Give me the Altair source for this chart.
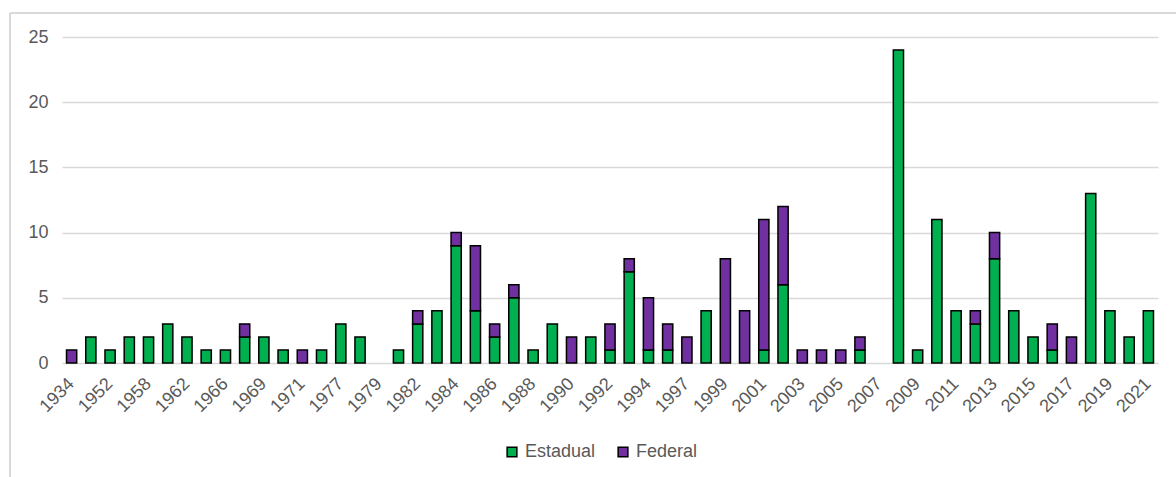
import altair as alt
import pandas as pd

# Category years (x axis, in order)
years = [
    "1934", "1948", "1952", "1955", "1958", "1960", "1962", "1964", "1966", "1968",
    "1969", "1970", "1971", "1974", "1977", "1978", "1979", "1980", "1982", "1983",
    "1984", "1985", "1986", "1987", "1988", "1989", "1990", "1991", "1992", "1993",
    "1994", "1995", "1997", "1998", "1999", "2000", "2001", "2002", "2003", "2004",
    "2005", "2006", "2007", "2008", "2009", "2010", "2011", "2012", "2013", "2014",
    "2015", "2016", "2017", "2018", "2019", "2020", "2021",
]

# Counts per year, by sphere
estadual = [
    0, 2, 1, 2, 2, 3, 2, 1, 1, 2,
    2, 1, 0, 1, 3, 2, 0, 1, 3, 4,
    9, 4, 2, 5, 1, 3, 0, 2, 1, 7,
    1, 1, 0, 4, 0, 0, 1, 6, 0, 0,
    0, 1, 0, 24, 1, 11, 4, 3, 8, 4,
    2, 1, 0, 13, 4, 2, 4,
]
federal = [
    1, 0, 0, 0, 0, 0, 0, 0, 0, 1,
    0, 0, 1, 0, 0, 0, 0, 0, 1, 0,
    1, 5, 1, 1, 0, 0, 2, 0, 2, 1,
    4, 2, 2, 0, 8, 4, 10, 6, 1, 1,
    1, 1, 0, 0, 0, 0, 0, 1, 2, 0,
    0, 2, 2, 0, 0, 0, 0,
]

series = ["Estadual", "Federal"]
colors = ["#00B050", "#7030A0"]

# Axis shows every other year
shown_years = years[::2]

rows = []
for y, e, f in zip(years, estadual, federal):
    if e > 0:
        rows.append({"ano": y, "esfera": "Estadual", "n": e, "ordem": 0})
    if f > 0:
        rows.append({"ano": y, "esfera": "Federal", "n": f, "ordem": 1})
df = pd.DataFrame(rows)

FONT = "Liberation Sans"
GREY = "#595959"
FS = 18

bars = alt.Chart(df).mark_bar(stroke="black", strokeWidth=1.5).encode(
    x=alt.X(
        "ano:N",
        sort=years,
        scale=alt.Scale(domain=years, paddingInner=0.47, paddingOuter=0.235),
        axis=alt.Axis(
            title=None,
            values=shown_years,
            labelAngle=-45,
            labelAlign="right",
            labelBaseline="middle",
            labelPadding=18,
            labelFontSize=FS,
            labelColor=GREY,
            labelFont=FONT,
            ticks=False,
            domain=False,
            grid=False,
        ),
    ),
    y=alt.Y(
        "n:Q",
        stack="zero",
        scale=alt.Scale(domain=[0, 25]),
        axis=alt.Axis(
            title=None,
            values=[0, 5, 10, 15, 20, 25],
            labelFontSize=FS,
            labelColor=GREY,
            labelFont=FONT,
            labelPadding=14,
            ticks=False,
            domain=False,
            grid=True,
            gridColor="#d9d9d9",
            gridWidth=1.5,
        ),
    ),
    color=alt.Color(
        "esfera:N",
        scale=alt.Scale(domain=series, range=colors),
        legend=alt.Legend(
            title=None,
            orient="none",
            legendX=441,
            legendY=406,
            direction="horizontal",
            symbolType="square",
            symbolSize=95,
            symbolStrokeColor="black",
            symbolStrokeWidth=1.5,
            labelFontSize=FS,
            labelColor=GREY,
            labelFont=FONT,
            columnPadding=18,
            labelOffset=4,
        ),
    ),
    order=alt.Order("ordem:Q", sort="ascending"),
)

# Light frame around the chart (top and left edges)
frame_top = alt.Chart(pd.DataFrame({"k": [0]})).mark_rule(
    color="#d9d9d9", strokeWidth=2
).encode(x=alt.value(-52), x2=alt.value(1130), y=alt.value(-24))
frame_left = alt.Chart(pd.DataFrame({"k": [0]})).mark_rule(
    color="#d9d9d9", strokeWidth=2
).encode(x=alt.value(-52), y=alt.value(-24), y2=alt.value(450))

chart = (
    alt.layer(frame_top, frame_left, bars)
    .properties(
        width=1096,
        height=326,
        autosize=alt.AutoSizeParams(type="none"),
        padding={"left": 62, "top": 37, "right": 18, "bottom": 114},
        background="white",
    )
    .configure_view(stroke=None)
)

chart.save("out.html", embed_options={"renderer": "svg", "actions": False})
